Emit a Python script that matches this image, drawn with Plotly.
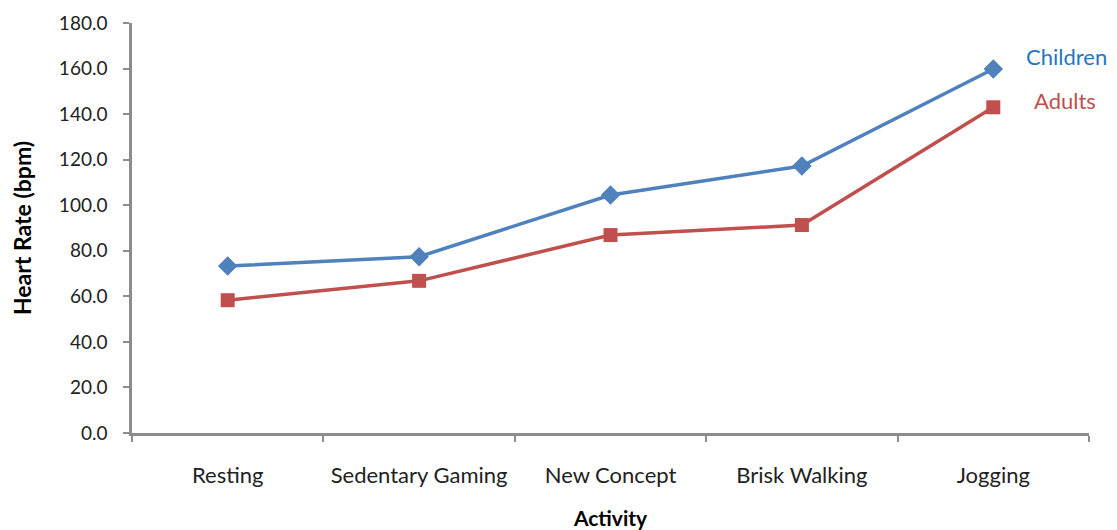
import plotly.graph_objects as go

activities = ["Resting", "Sedentary Gaming", "New Concept", "Brisk Walking", "Jogging"]
children = [73.3, 77.4, 104.5, 117.2, 159.8]
adults = [58.3, 66.8, 86.9, 91.3, 143.0]

BLUE = "#4F81BD"
RED = "#C0504D"
AXIS = "#8C8C8C"
FONT = "Lato"

fig = go.Figure()
fig.add_trace(go.Scatter(
    x=activities, y=children, name="Children", mode="lines+markers",
    line=dict(color=BLUE, width=3.5),
    marker=dict(symbol="diamond", size=15, color=BLUE),
))
fig.add_trace(go.Scatter(
    x=activities, y=adults, name="Adults", mode="lines+markers",
    line=dict(color=RED, width=3.5),
    marker=dict(symbol="square", size=14, color=RED),
))

# Series labels beside the last points
fig.add_annotation(x=activities[-1], y=children[-1], text="Children", showarrow=False,
                   xshift=73, yshift=13, font=dict(family=FONT, size=22, color="#1F77C4"))
fig.add_annotation(x=activities[-1], y=adults[-1], text="Adults", showarrow=False,
                   xshift=72, yshift=7, font=dict(family=FONT, size=22, color=RED))

fig.update_layout(
    width=1117, height=530,
    margin=dict(l=132, r=28, t=23, b=97),
    paper_bgcolor="white", plot_bgcolor="white",
    showlegend=False,
    font=dict(family=FONT, size=18, color="#222222"),
    xaxis=dict(
        type="category", range=[-0.5, 4.5], automargin=False,
        showline=True, linecolor=AXIS, linewidth=2.5,
        ticks="outside", tickson="boundaries", ticklen=6, tickcolor=AXIS, tickwidth=1.5,
        showgrid=False, zeroline=False, ticklabelstandoff=21,
        title=dict(text="<b>Activity</b>", font=dict(family=FONT, size=21, color="#000"), standoff=27),
        tickfont=dict(family=FONT, size=22, color="#222"),
    ),
    yaxis=dict(
        range=[0, 180], dtick=20, tickformat=".1f", automargin=False,
        showline=True, linecolor=AXIS, linewidth=2.5,
        ticks="outside", ticklen=6, tickcolor=AXIS, tickwidth=1.5,
        showgrid=False, zeroline=False, ticklabelstandoff=12,
        title=dict(text="<b>Heart Rate (bpm)</b>", font=dict(family=FONT, size=23, color="#000"), standoff=21),
        tickfont=dict(family=FONT, size=19, color="#222"),
    ),
)

fig.write_html("out.html")
